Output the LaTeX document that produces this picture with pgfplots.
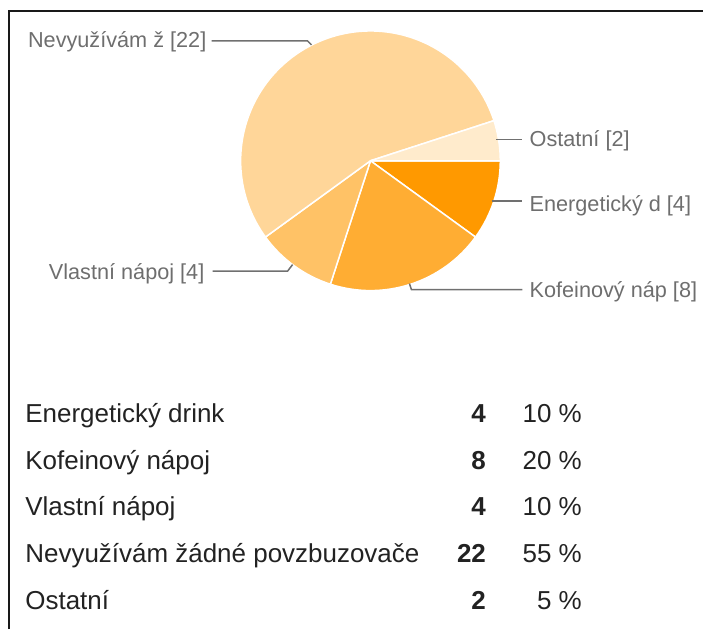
\documentclass[border=0pt]{standalone}
\usepackage{pgfplots}
\pgfplotsset{compat=1.18}
\usepackage{fontspec}
\setmainfont{Liberation Sans}
\definecolor{c1}{HTML}{FF9900}
\definecolor{c2}{HTML}{FFAD33}
\definecolor{c3}{HTML}{FFC266}
\definecolor{c4}{HTML}{FFD699}
\definecolor{c5}{HTML}{FFEBCC}
\definecolor{lbl}{HTML}{6E6E6E}
\definecolor{ldr}{HTML}{707070}
\definecolor{tbl}{HTML}{222222}
% values: Energeticky 4, Kofeinovy 8, Vlastni 4, Nevyuzivam 22, Ostatni 2 (total 40)
\def\vA{4}\def\vB{8}\def\vC{4}\def\vD{22}\def\vE{2}\def\tot{40}
\begin{document}
\begin{tikzpicture}
\begin{axis}[x=0.5pt,y=0.5pt,xmin=0,xmax=704,ymin=0,ymax=630,hide axis,clip=false,scale only axis]
\path (axis cs:0,0) rectangle (axis cs:704,630);
% frame
\draw[black!90,line width=1pt] (axis cs:9.5,0) -- (axis cs:9.5,619) -- (axis cs:704,619);
% pie
\tikzset{wedge/.style={draw=white,line width=0.75pt,line join=round}}
\fill[c1,wedge] (axis cs:371,469) -- ++(0:65pt) arc[start angle=0,end angle={-360*\vA/\tot},radius=65pt] -- cycle;
\fill[c2,wedge] (axis cs:371,469) -- ++({-360*\vA/\tot}:65pt) arc[start angle={-360*\vA/\tot},end angle={-360*(\vA+\vB)/\tot},radius=65pt] -- cycle;
\fill[c3,wedge] (axis cs:371,469) -- ++({-360*(\vA+\vB)/\tot}:65pt) arc[start angle={-360*(\vA+\vB)/\tot},end angle={-360*(\vA+\vB+\vC)/\tot},radius=65pt] -- cycle;
\fill[c4,wedge] (axis cs:371,469) -- ++({-360*(\vA+\vB+\vC)/\tot}:65pt) arc[start angle={-360*(\vA+\vB+\vC)/\tot},end angle={-360*(\vA+\vB+\vC+\vD)/\tot},radius=65pt] -- cycle;
\fill[c5,wedge] (axis cs:371,469) -- ++({-360*(\vA+\vB+\vC+\vD)/\tot}:65pt) arc[start angle={-360*(\vA+\vB+\vC+\vD)/\tot},end angle=-360,radius=65pt] -- cycle;
% leader lines
\begin{scope}[ldr,line width=0.75pt]
\draw (axis cs:212,589) -- (axis cs:308,589) -- (axis cs:312,585);
\draw (axis cs:497,490.5) -- (axis cs:523,490.5);
\draw (axis cs:493,428.5) -- (axis cs:523,428.5);
\draw (axis cs:410,346) -- (axis cs:412,340) -- (axis cs:523,340);
\draw (axis cs:213,358.5) -- (axis cs:288,358.5) -- (axis cs:293,365);
\end{scope}
% labels
\begin{scope}[every node/.style={inner sep=0pt,text=lbl,font=\fontsize{10.85}{13}\selectfont}]
\node[anchor=base east] at (axis cs:207,582) {Nevyužívám ž [22]};
\node[anchor=base west] at (axis cs:530,483) {Ostatní [2]};
\node[anchor=base west] at (axis cs:530,418) {Energetický d [4]};
\node[anchor=base west] at (axis cs:530,332) {Kofeinový náp [8]};
\node[anchor=base east] at (axis cs:205,350) {Vlastní nápoj [4]};
\end{scope}
% table
\begin{scope}[every node/.style={inner sep=0pt,text=tbl,font=\fontsize{13}{15}\selectfont}]
\node[anchor=base west] at (axis cs:25,206.7) {Energetický drink};
\node[anchor=base west] at (axis cs:25,160) {Kofeinový nápoj};
\node[anchor=base west] at (axis cs:25,113.3) {Vlastní nápoj};
\node[anchor=base west] at (axis cs:25,66.7) {Nevyužívám žádné povzbuzovače};
\node[anchor=base west] at (axis cs:25,20) {Ostatní};
\node[anchor=base east] at (axis cs:487,206.7) {\bfseries 4};
\node[anchor=base east] at (axis cs:487,160) {\bfseries 8};
\node[anchor=base east] at (axis cs:487,113.3) {\bfseries 4};
\node[anchor=base east] at (axis cs:487,66.7) {\bfseries 22};
\node[anchor=base east] at (axis cs:487,20) {\bfseries 2};
\node[anchor=base east] at (axis cs:583,206.7) {10 \%};
\node[anchor=base east] at (axis cs:583,160) {20 \%};
\node[anchor=base east] at (axis cs:583,113.3) {10 \%};
\node[anchor=base east] at (axis cs:583,66.7) {55 \%};
\node[anchor=base east] at (axis cs:583,20) {5 \%};
\end{scope}
\end{axis}
\end{tikzpicture}
\end{document}
